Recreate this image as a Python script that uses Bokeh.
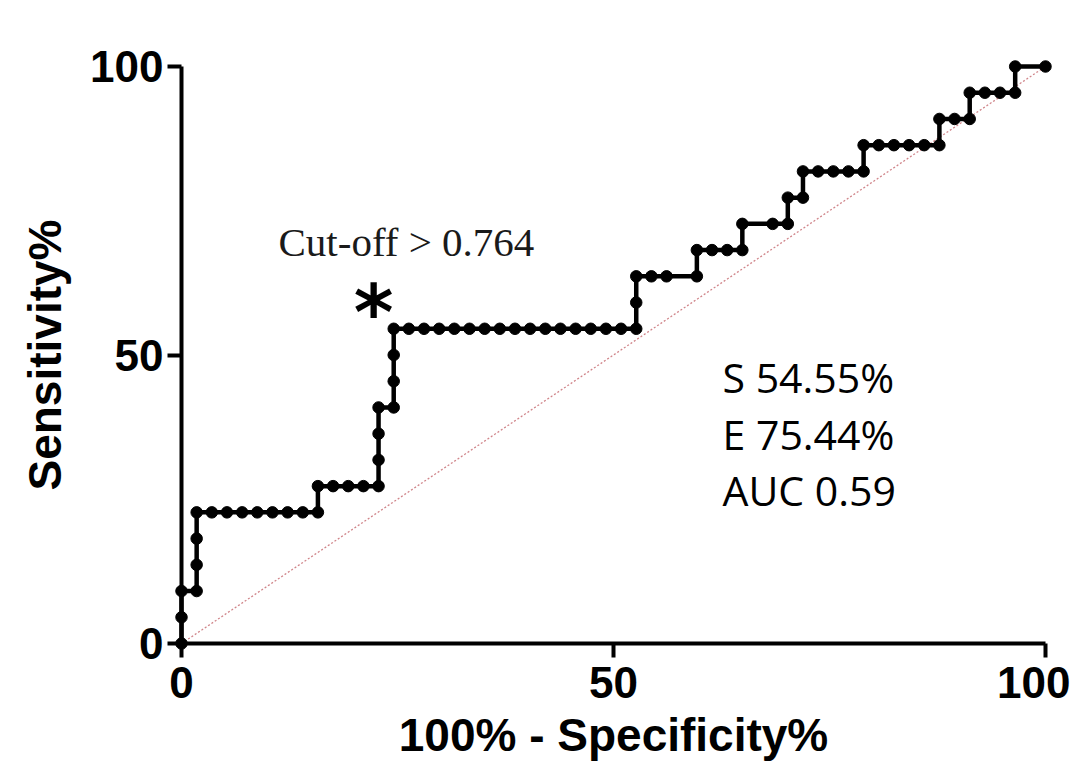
from bokeh.plotting import figure
from bokeh.models import Range1d, FixedTicker, Label
from bokeh.embed import file_html
from bokeh.resources import INLINE

# ROC points (100% - Specificity%, Sensitivity%)
fpr = [0.0, 0.0, 0.0, 1.754, 1.754, 1.754, 1.754, 3.509, 5.263, 7.018, 8.772,
       10.526, 12.281, 14.035, 15.789, 15.789, 17.544, 19.298, 21.053, 22.807,
       22.807, 22.807, 22.807, 24.561, 24.561, 24.561, 24.561, 26.316, 28.070,
       29.825, 31.579, 33.333, 35.088, 36.842, 38.596, 40.351, 42.105, 43.860,
       45.614, 47.368, 49.123, 50.877, 52.632, 52.632, 52.632, 54.386, 56.140,
       59.649, 59.649, 61.404, 63.158, 64.912, 64.912, 68.421, 70.175, 70.175,
       71.930, 71.930, 73.684, 75.439, 77.193, 78.947, 78.947, 80.702, 82.456,
       84.211, 85.965, 87.719, 87.719, 89.474, 91.228, 91.228, 92.982, 94.737,
       96.491, 96.491, 100.0]
tpr = [0.0, 4.545, 9.091, 9.091, 13.636, 18.182, 22.727, 22.727, 22.727, 22.727,
       22.727, 22.727, 22.727, 22.727, 22.727, 27.273, 27.273, 27.273, 27.273,
       27.273, 31.818, 36.364, 40.909, 40.909, 45.455, 50.0, 54.545, 54.545,
       54.545, 54.545, 54.545, 54.545, 54.545, 54.545, 54.545, 54.545, 54.545,
       54.545, 54.545, 54.545, 54.545, 54.545, 54.545, 59.091, 63.636, 63.636,
       63.636, 63.636, 68.182, 68.182, 68.182, 68.182, 72.727, 72.727, 72.727,
       77.273, 77.273, 81.818, 81.818, 81.818, 81.818, 81.818, 86.364, 86.364,
       86.364, 86.364, 86.364, 86.364, 90.909, 90.909, 90.909, 95.455, 95.455,
       95.455, 95.455, 100.0, 100.0]

diag_x = [0, 100]
diag_y = [0, 100]
x_ticks = [0, 50, 100]
y_ticks = [0, 50, 100]
x_title = "100% - Specificity%"
y_title = "Sensitivity%"
cutoff_text = "Cut-off > 0.764"
stats_lines = ["S 54.55%", "E 75.44%", "AUC 0.59"]

# pixel geometry
W, H = 1070, 766
X0, X100 = 181, 1045
Y0, Y100 = 643, 66
sx = (X100 - X0) / 100.0
sy = (Y0 - Y100) / 100.0

def dx(px):
    return (px - X0) / sx

def dy(py):
    return (Y0 - py) / sy

p = figure(
    frame_width=W, frame_height=H,
    min_border_left=0, min_border_top=0, min_border_right=0, min_border_bottom=0,
    x_range=Range1d(dx(0), dx(W)),
    y_range=Range1d(dy(H), dy(0)),
    output_backend="svg", toolbar_location=None,
)
p.outline_line_color = None
p.xgrid.visible = False
p.ygrid.visible = False
p.background_fill_color = "white"
p.border_fill_color = "white"

for ax, ticks, title in ((p.xaxis[0], x_ticks, x_title), (p.yaxis[0], y_ticks, y_title)):
    ax.fixed_location = 0
    ax.bounds = (0, 100)
    ax.ticker = FixedTicker(ticks=ticks)
    ax.minor_tick_line_color = None
    ax.axis_line_width = 4
    ax.axis_line_color = "black"
    ax.major_tick_line_width = 4
    ax.major_tick_line_color = "black"
    ax.major_tick_out = 14
    ax.major_tick_in = 0
    ax.major_label_text_font = "Liberation Sans"
    ax.major_label_text_font_style = "bold"
    ax.major_label_text_font_size = "44px"
    ax.major_label_text_color = "black"
    ax.axis_label = title
    ax.axis_label_text_font = "Liberation Sans"
    ax.axis_label_text_font_style = "bold"
    ax.axis_label_text_font_size = "46px"
    ax.axis_label_text_color = "black"

p.xaxis[0].major_label_standoff = 9
p.xaxis[0].axis_label_standoff = 8
p.yaxis[0].major_label_standoff = 4
p.yaxis[0].axis_label_standoff = 16

p.line(diag_x, diag_y, line_color="#d0858a", line_width=1.3, line_dash="2 2")
p.line(fpr, tpr, line_color="black", line_width=4.5)
p.scatter(fpr, tpr, size=11.5, marker="circle", fill_color="black", line_color="black")

p.add_layout(Label(x=dx(278), y=dy(264), text=cutoff_text, text_font="Liberation Serif",
                   text_font_size="41px", text_color="#1a1a1a"))
p.add_layout(Label(x=dx(373), y=dy(356), text="*", text_font="DejaVu Sans",
                   text_font_style="bold", text_font_size="76px", text_align="center",
                   text_color="black"))
for txt, base in zip(stats_lines, (404, 461, 517)):
    p.add_layout(Label(x=dx(722), y=dy(base), text=txt, text_font="Open Sans",
                       text_font_size="41px", text_color="black"))

open("out.html", "w").write(file_html(p, INLINE))
